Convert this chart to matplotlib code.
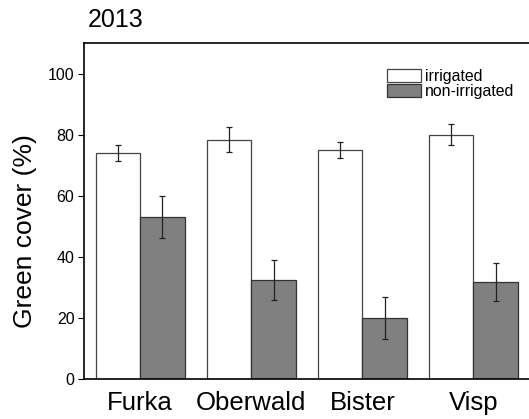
import numpy as np
import matplotlib.pyplot as plt

plt.rcParams['font.family'] = ['Liberation Sans', 'DejaVu Sans']

# datos
sites = ['Furka', 'Oberwald', 'Bister', 'Visp']
irrigated = [74, 78.4, 75, 80]
irrigated_err = [2.5, 4.2, 2.6, 3.4]
non_irrigated = [53, 32.5, 20, 31.8]
non_irrigated_err = [6.8, 6.5, 7, 6.3]

x = np.arange(len(sites))
w = 0.4

fig = plt.figure(figsize=(5.29, 4.19), dpi=100)
ax = fig.add_axes([0.159, 0.0955, 0.841, 0.8015])

err_kw = dict(ecolor='#222222', elinewidth=0.9, capsize=2.2, capthick=0.9)
ax.bar(x - w / 2, irrigated, w, yerr=irrigated_err, color='white',
       edgecolor='#444444', linewidth=0.9, label='irrigated', error_kw=err_kw)
ax.bar(x + w / 2, non_irrigated, w, yerr=non_irrigated_err, color='#808080',
       edgecolor='#333333', linewidth=0.9, label='non-irrigated', error_kw=err_kw)

ax.set_xlim(-0.505, 3.5)
ax.set_ylim(0, 110)
ax.set_yticks([0, 20, 40, 60, 80, 100])
ax.tick_params(axis='y', direction='out', length=4, labelsize=11.5, pad=3)
ax.set_xticks(x)
ax.set_xticklabels(sites, fontsize=18.5)
ax.tick_params(axis='x', length=0, pad=9)
ax.set_ylabel('Green cover (%)', fontsize=19)
ax.yaxis.set_label_coords(-0.105, 0.44)
ax.spines['right'].set_visible(False)
for s in ['left', 'bottom', 'top']:
    ax.spines[s].set_linewidth(1.2)

ax.text(0.008, 1.033, '2013', transform=ax.transAxes, fontsize=18, ha='left', va='bottom')

ax.legend(loc='upper right', bbox_to_anchor=(0.992, 0.957), frameon=False,
          fontsize=11.4, handlelength=2.15, handleheight=0.85, labelspacing=0.0,
          handletextpad=0.25, borderpad=0.2)

plt.savefig('out.png', dpi=100)
